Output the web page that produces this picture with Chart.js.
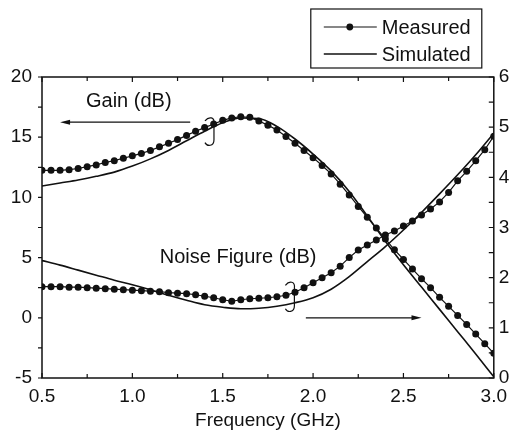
<!DOCTYPE html>
<html>
<head>
<meta charset="utf-8">
<script src="https://cdn.jsdelivr.net/npm/chart.js@4/dist/chart.umd.min.js"></script>
<style>
  html, body { margin: 0; padding: 0; background: #fff; }
</style>
</head>
<body>
<canvas id="chart" width="514" height="432"></canvas>
<script>
// measured points every 0.05 GHz
const freqMeasured = [0.5, 0.55, 0.6, 0.65, 0.7, 0.75, 0.8, 0.85, 0.9, 0.95,
  1.0, 1.05, 1.1, 1.15, 1.2, 1.25, 1.3, 1.35, 1.4, 1.45,
  1.5, 1.55, 1.6, 1.65, 1.7, 1.75, 1.8, 1.85, 1.9, 1.95,
  2.0, 2.05, 2.1, 2.15, 2.2, 2.25, 2.3, 2.35, 2.4, 2.45,
  2.5, 2.55, 2.6, 2.65, 2.7, 2.75, 2.8, 2.85, 2.9, 2.95, 3.0];
const gainMeasured = [12.25, 12.25, 12.25, 12.3, 12.4, 12.55, 12.7, 12.9, 13.05, 13.25,
  13.45, 13.65, 13.9, 14.2, 14.5, 14.8, 15.15, 15.5, 15.8, 16.1,
  16.4, 16.6, 16.7, 16.65, 16.35, 16.0, 15.6, 15.05, 14.5, 13.9,
  13.3, 12.65, 11.95, 11.1, 10.2, 9.25, 8.35, 7.45, 6.55, 5.65,
  4.85, 4.05, 3.25, 2.5, 1.7, 0.95, 0.2, -0.55, -1.35, -2.15, -2.95];
const nfMeasured = [1.82, 1.82, 1.82, 1.81, 1.81, 1.8, 1.79, 1.78, 1.77, 1.76,
  1.75, 1.74, 1.73, 1.72, 1.7, 1.69, 1.68, 1.66, 1.63, 1.6,
  1.56, 1.53, 1.56, 1.58, 1.59, 1.6, 1.62, 1.65, 1.71, 1.8,
  1.9, 2.0, 2.1, 2.23, 2.4, 2.55, 2.65, 2.75, 2.85, 2.93,
  3.03, 3.13, 3.25, 3.37, 3.51, 3.7, 3.93, 4.12, 4.33, 4.55, 4.82];

// simulated curves every 0.1 GHz
const freqSimulated = [0.5, 0.6, 0.7, 0.8, 0.9, 1.0, 1.1, 1.2, 1.3, 1.4, 1.5, 1.6, 1.7,
  1.8, 1.9, 2.0, 2.1, 2.2, 2.3, 2.4, 2.5, 2.6, 2.7, 2.8, 2.9, 3.0];
const gainSimulated = [10.95, 11.2, 11.45, 11.75, 12.1, 12.6, 13.2, 13.9, 14.7, 15.5, 16.2, 16.6, 16.55,
  15.9, 14.85, 13.6, 12.2, 10.5, 8.45, 6.35, 4.4, 2.55, 0.7, -1.15, -3.0, -4.9];
const nfSimulated = [2.34, 2.25, 2.15, 2.05, 1.95, 1.86, 1.76, 1.65, 1.55, 1.46, 1.41, 1.38, 1.39,
  1.43, 1.5, 1.6, 1.77, 2.02, 2.32, 2.62, 2.95, 3.3, 3.67, 4.05, 4.45, 4.88];

const seriesNames = ["Measured", "Simulated"];
const axisTitle = "Frequency (GHz)";
const gainLabel = "Gain (dB)";
const nfLabel = "Noise Figure (dB)";

const ink = "#111";
const fontFamily = "'Liberation Sans', Arial, sans-serif";

const toPoints = (xs, ys) => xs.map((x, i) => ({ x: x, y: ys[i] }));

function arrow(ctx, x1, x2, y) {
  const dir = x2 > x1 ? 1 : -1;
  ctx.beginPath();
  ctx.moveTo(x1, y);
  ctx.lineTo(x2 - dir * 6, y);
  ctx.stroke();
  ctx.beginPath();
  ctx.moveTo(x2, y);
  ctx.lineTo(x2 - dir * 10, y - 2.5);
  ctx.lineTo(x2 - dir * 10, y + 2.5);
  ctx.closePath();
  ctx.fill();
}

function bracket(ctx, cx, top, bottom) {
  ctx.beginPath();
  ctx.moveTo(cx - 6, top + 3);
  ctx.bezierCurveTo(cx - 2, top - 2, cx + 4, top - 1, cx + 3, top + 6);
  ctx.lineTo(cx + 3, bottom - 6);
  ctx.bezierCurveTo(cx + 3, bottom + 1, cx - 4, bottom + 1, cx - 6, bottom - 3);
  ctx.stroke();
}

const decorations = {
  id: "decorations",
  afterDraw(chart) {
    const { ctx, chartArea: a, scales } = chart;
    const x = scales.x, y = scales.y, y1 = scales.y1;
    ctx.save();

    // frame
    ctx.strokeStyle = ink;
    ctx.fillStyle = ink;
    ctx.lineWidth = 1.5;
    ctx.strokeRect(a.left, a.top, a.right - a.left, a.bottom - a.top);

    // tick marks: left outward, the rest inward
    ctx.lineWidth = 1.2;
    ctx.beginPath();
    x.ticks.forEach(t => {
      const px = x.getPixelForValue(t.value);
      const len = t.label ? 5 : 4;
      ctx.moveTo(px, a.bottom); ctx.lineTo(px, a.bottom - len);
      ctx.moveTo(px, a.top); ctx.lineTo(px, a.top + len);
    });
    y.ticks.forEach(t => {
      const py = y.getPixelForValue(t.value);
      ctx.moveTo(a.left, py); ctx.lineTo(a.left - 4, py);
    });
    y1.ticks.forEach(t => {
      const py = y1.getPixelForValue(t.value);
      ctx.moveTo(a.right, py); ctx.lineTo(a.right - 5, py);
    });
    ctx.stroke();

    // annotations
    ctx.font = "20px " + fontFamily;
    ctx.textAlign = "center";
    ctx.textBaseline = "middle";
    ctx.fillText(gainLabel, x.getPixelForValue(0.98), y.getPixelForValue(17.95));
    ctx.fillText(nfLabel, x.getPixelForValue(1.585), y.getPixelForValue(4.97));
    ctx.lineWidth = 1.2;
    arrow(ctx, x.getPixelForValue(1.32), x.getPixelForValue(0.6), y.getPixelForValue(16.25));
    arrow(ctx, x.getPixelForValue(1.96), x.getPixelForValue(2.6), y.getPixelForValue(0));
    bracket(ctx, x.getPixelForValue(1.435), y.getPixelForValue(16.6), y.getPixelForValue(14.3));
    bracket(ctx, x.getPixelForValue(1.88), y.getPixelForValue(2.95), y.getPixelForValue(0.5));

    // legend box
    const bx = a.right - 183, by = 9, bw = 171, bh = 59;
    ctx.lineWidth = 1.2;
    ctx.strokeRect(bx, by, bw, bh);
    ctx.textAlign = "left";
    seriesNames.forEach((name, i) => {
      const ly = by + 18 + i * 27;
      ctx.beginPath();
      ctx.moveTo(bx + 13, ly);
      ctx.lineTo(bx + 66, ly);
      ctx.lineWidth = i === 0 ? 1.2 : 1.6;
      ctx.stroke();
      if (i === 0) {
        ctx.beginPath();
        ctx.arc(bx + 39, ly, 3.4, 0, Math.PI * 2);
        ctx.fill();
      }
      ctx.fillText(name, bx + 71, ly + 1);
    });

    ctx.restore();
  }
};

const tickFont = { family: fontFamily, size: 19 };
const noGrid = { display: false, drawTicks: false };

new Chart(document.getElementById("chart"), {
  type: "line",
  data: {
    datasets: [
      {
        label: "Gain " + seriesNames[0],
        data: toPoints(freqMeasured, gainMeasured),
        yAxisID: "y",
        borderColor: ink,
        backgroundColor: ink,
        borderWidth: 1.2,
        pointRadius: 3.5,
        pointBorderWidth: 0,
        tension: 0
      },
      {
        label: "Gain " + seriesNames[1],
        data: toPoints(freqSimulated, gainSimulated),
        yAxisID: "y",
        borderColor: ink,
        borderWidth: 1.6,
        pointRadius: 0,
        cubicInterpolationMode: "monotone"
      },
      {
        label: "NF " + seriesNames[0],
        data: toPoints(freqMeasured, nfMeasured),
        yAxisID: "y1",
        borderColor: ink,
        backgroundColor: ink,
        borderWidth: 1.2,
        pointRadius: 3.5,
        pointBorderWidth: 0,
        tension: 0
      },
      {
        label: "NF " + seriesNames[1],
        data: toPoints(freqSimulated, nfSimulated),
        yAxisID: "y1",
        borderColor: ink,
        borderWidth: 1.6,
        pointRadius: 0,
        cubicInterpolationMode: "monotone"
      }
    ]
  },
  options: {
    responsive: false,
    animation: false,
    layout: { padding: { top: 77 } },
    plugins: {
      legend: { display: false },
      tooltip: { enabled: false }
    },
    scales: {
      x: {
        type: "linear",
        min: 0.5,
        max: 3.0,
        afterFit: s => { s.height = 54; },
        ticks: {
          stepSize: 0.25,
          autoSkip: false,
          maxRotation: 0,
          padding: 7,
          color: ink,
          font: tickFont,
          callback: v => (Math.abs(v * 2 - Math.round(v * 2)) < 1e-6 ? v.toFixed(1) : "")
        },
        grid: noGrid,
        border: { display: false },
        title: {
          display: true,
          text: axisTitle,
          color: ink,
          font: { family: fontFamily, size: 19 },
          padding: { top: 0, bottom: 0 }
        }
      },
      y: {
        position: "left",
        min: -5,
        max: 20,
        afterFit: s => { s.width = 42; },
        ticks: {
          stepSize: 2.5,
          autoSkip: false,
          padding: 10,
          color: ink,
          font: tickFont,
          callback: v => (v % 5 === 0 ? String(v) : "")
        },
        grid: noGrid,
        border: { display: false }
      },
      y1: {
        position: "right",
        min: 0,
        max: 6,
        afterFit: s => { s.width = 19; },
        ticks: {
          stepSize: 0.5,
          autoSkip: false,
          padding: 5,
          color: ink,
          font: tickFont,
          callback: v => (Number.isInteger(v) ? String(v) : "")
        },
        grid: noGrid,
        border: { display: false }
      }
    }
  },
  plugins: [decorations]
});
</script>
</body>
</html>
